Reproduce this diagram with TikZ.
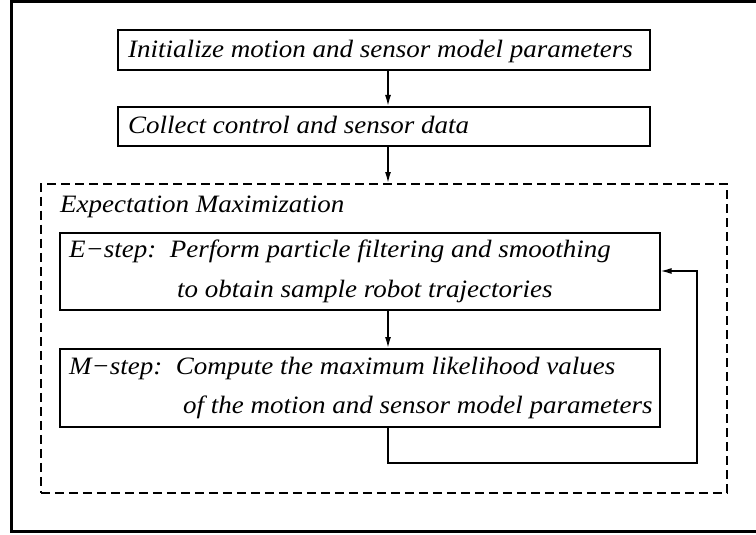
\documentclass[tikz,border=0pt]{standalone}
\usepackage{fontspec}
\setmainfont{Liberation Serif}[FakeStretch=1.08]
\usetikzlibrary{arrows.meta}
\begin{document}
\begin{tikzpicture}[x=1pt,y=-1pt,
  stepbox/.style={draw,line width=1.6pt,rectangle,inner sep=0pt,anchor=north west},
  txt/.style={anchor=base west,inner sep=0pt,font=\fontsize{25}{30}\selectfont\itshape},
  flow/.style={line width=1.4pt,-{Latex[length=11pt,width=6pt]}},
  frame/.style={draw,line width=3pt},
  group/.style={draw,line width=1.5pt,dash pattern=on 9pt off 5pt}]
\useasboundingbox (0,0) rectangle (756,535);
% outer frame (its right edge lies past the page)
\draw[frame] (11.7,1.5) rectangle (780,531);
% boxes
\node[stepbox,minimum width=532pt,minimum height=40pt] (init) at (117,29) {};
\node[stepbox,minimum width=532pt,minimum height=39pt] (collect) at (117,106) {};
\node[group,rectangle,inner sep=0pt,anchor=north west,minimum width=686pt,minimum height=309pt] (em) at (40,183) {};
\node[stepbox,minimum width=600pt,minimum height=77pt] (estep) at (59,232) {};
\node[stepbox,minimum width=600pt,minimum height=78pt] (mstep) at (59,348) {};
% texts
\node[txt] (tinit) at (128,58) {Initialize motion and sensor model parameters};
\node[txt] (tcollect) at (128,134) {Collect control and sensor data};
\node[txt] (tem) at (60,212) {Expectation Maximization};
\node[txt] (te1) at (69,257) {E−step:\ \ Perform particle filtering and smoothing};
\node[txt] (te2) at (177,297) {to obtain sample robot trajectories};
\node[txt] (tm1) at (69,374) {M−step:\ \ Compute the maximum likelihood values};
\node[txt] (tm2) at (183,413) {of the motion and sensor model parameters};
% connectors
\coordinate (loopa) at (388,463);
\coordinate (loopb) at (697,463);
\coordinate (loopc) at (697,271);
\draw[flow] (init.south -| 388,0) -- (collect.north -| 388,0);
\draw[flow] (collect.south -| 388,0) -- (em.north -| 388,0);
\draw[flow] (estep.south -| 388,0) -- (mstep.north -| 388,0);
\draw[flow] (mstep.south -| 388,0) -- (loopa) -- (loopb) -- (loopc) -- (estep.east |- loopc);
\end{tikzpicture}
\end{document}
